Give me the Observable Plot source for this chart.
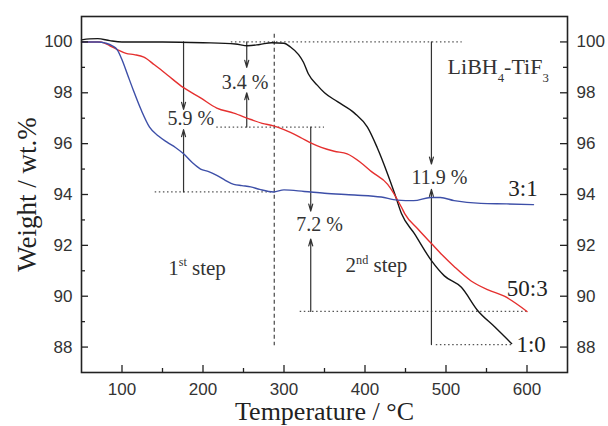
<!DOCTYPE html>
<html>
<head>
<meta charset="utf-8">
<script src="https://cdn.jsdelivr.net/npm/d3@7"></script>
<script src="https://cdn.jsdelivr.net/npm/@observablehq/plot@0.6"></script>
<style>
  html, body { margin: 0; padding: 0; background: #fff; }
  #chart { width: 608px; height: 426px; }
</style>
</head>
<body>
<div id="chart"></div>
<script>
// ---- Data ----
const blackT = [50, 60, 70, 85, 100, 150, 200, 240, 255, 270, 285, 300, 308, 318, 324, 330, 341, 350, 366, 387, 403, 415, 428, 437, 445, 461, 482, 498, 519, 539, 560, 581];
const blackW = [100.08, 100.12, 100.13, 100.05, 100.0, 100.0, 99.97, 99.92, 99.85, 99.9, 99.97, 99.95, 99.8, 99.5, 99.2, 98.75, 98.3, 98.0, 97.65, 97.2, 96.65, 95.85, 94.8, 94.0, 93.25, 92.46, 91.4, 90.8, 90.35, 89.44, 88.8, 88.14];

const redT = [50, 73, 85, 94, 105, 115, 127, 140, 156, 176, 197, 217, 238, 259, 273, 287, 300, 320, 335, 346, 362, 378, 395, 408, 428, 445, 449, 465, 482, 496, 510, 531, 552, 572, 600];
const redW = [100.0, 100.0, 99.85, 99.7, 99.55, 99.5, 99.4, 99.1, 98.7, 98.2, 97.8, 97.4, 97.2, 96.95, 96.8, 96.7, 96.55, 96.25, 96.0, 95.85, 95.7, 95.6, 95.25, 94.9, 94.4, 93.5, 93.25, 92.65, 92.07, 91.6, 91.17, 90.6, 90.25, 90.0, 89.4];

const blueT = [50, 70, 80, 88, 94, 100, 107, 114, 124, 134, 145, 156, 166, 176, 187, 197, 207, 217, 228, 238, 248, 259, 270, 287, 300, 325, 350, 387, 420, 440, 460, 481, 493, 510, 543, 575, 608];
const blueW = [100.0, 100.0, 99.95, 99.85, 99.7, 99.3, 98.7, 98.1, 97.3, 96.65, 96.3, 96.05, 95.85, 95.6, 95.25, 95.0, 94.9, 94.75, 94.55, 94.4, 94.35, 94.3, 94.2, 94.1, 94.18, 94.12, 94.05, 93.98, 93.9, 93.78, 93.76, 93.88, 93.88, 93.76, 93.65, 93.63, 93.6];

const seriesNames = ["1:0", "50:3", "3:1"];
const seriesColors = ["#151515", "#e5302f", "#3d4fa8"];
const seriesLabelT = [587, 575, 577];
const seriesLabelW = [88.1, 90.3, 94.24];

// Ticks
const xTicks = [100, 200, 300, 400, 500, 600];
const xMinor = [150, 250, 350, 450, 550];
const yTicks = [88, 90, 92, 94, 96, 98, 100];
const yMinor = [89, 91, 93, 95, 97, 99];

// Dotted guide lines
const dotY = [100, 96.65, 94.1, 89.4, 88.1];
const dotX1 = [235, 217, 141, 320, 488];
const dotX2 = [520, 350, 290, 600, 581];

// Step divider
const dividerT = [288];
const dividerW1 = [100.3];
const dividerW2 = [88.05];

// Arrows
const arrowT    = [176, 176, 254, 254, 333, 333, 482, 482];
const arrowFrom = [100, 94.1, 100, 96.65, 96.65, 89.4, 100, 88.1];
const arrowTo   = [97.35, 96.55, 99.0, 98.0, 93.35, 92.25, 95.2, 94.2];

// Annotation texts
const pctLabels = ["5.9 %", "3.4 %", "7.2 %", "11.9 %"];
const pctT = [185, 252, 344, 492];
const pctW = [97.0, 98.4, 92.8, 94.67];

const stepLabels = ["1^{st} step", "2^{nd} step"];
const stepT = [157, 376];
const stepW = [91.1, 91.2];

const titleLabel = ["LiBH_{4}-TiF_{3}"];
const titleT = [502];
const titleW = [99.0];

const xLabel = "Temperature / °C";
const yLabel = "Weight / wt.%";

// ---- Build ----
const curves = [
  ...blackT.map((t, i) => ({s: "1:0", T: t, W: blackW[i]})),
  ...redT.map((t, i) => ({s: "50:3", T: t, W: redW[i]})),
  ...blueT.map((t, i) => ({s: "3:1", T: t, W: blueW[i]}))
];

const W = 608, H = 426, mL = 81, mR = 41, mT = 16, mB = 54;
const pW = W - mL - mR, pH = H - mT - mB;
const serif = "'Liberation Serif', 'Times New Roman', serif";
const sans = "'Liberation Sans', Arial, sans-serif";
const idx = n => d3.range(n);

const plot = Plot.plot({
  width: W, height: H,
  marginLeft: mL, marginRight: mR, marginTop: mT, marginBottom: mB,
  style: {fontFamily: sans, background: "#fff", color: "#222"},
  x: {domain: [50, 650]},
  y: {domain: [87, 101]},
  color: {domain: seriesNames, range: seriesColors},
  marks: [
    // guide lines
    Plot.ruleY(idx(dotY.length), {y: i => dotY[i], x1: i => dotX1[i], x2: i => dotX2[i], stroke: "#555", strokeWidth: 1.3, strokeDasharray: "1.5,2.6"}),
    Plot.ruleX(idx(dividerT.length), {x: i => dividerT[i], y1: i => dividerW1[i], y2: i => dividerW2[i], stroke: "#555", strokeWidth: 1.3, strokeDasharray: "4,3"}),
    Plot.arrow(idx(arrowT.length), {x: i => arrowT[i], y1: i => arrowFrom[i], y2: i => arrowTo[i], stroke: "#333", strokeWidth: 1.2, headLength: 9, headAngle: 32}),
    // curves
    Plot.line(curves, {x: "T", y: "W", z: "s", stroke: "s", strokeWidth: 1.4, curve: "monotone-x"}),
    // texts
    Plot.text(idx(pctLabels.length), {x: i => pctT[i], y: i => pctW[i], text: i => pctLabels[i], fontFamily: serif, fontSize: 20, fill: "#333"}),
    Plot.text(idx(stepLabels.length), {x: i => stepT[i], y: i => stepW[i], text: i => stepLabels[i], fontFamily: serif, fontSize: 21, fill: "#333", textAnchor: "start"}),
    Plot.text(idx(titleLabel.length), {x: i => titleT[i], y: i => titleW[i], text: i => titleLabel[i], fontFamily: serif, fontSize: 22, fill: "#333", textAnchor: "start"}),
    Plot.text(idx(seriesNames.length), {x: i => seriesLabelT[i], y: i => seriesLabelW[i], text: i => seriesNames[i], fontFamily: serif, fontSize: 23, fill: "#222", textAnchor: "start"}),
    // axis titles
    Plot.text([xLabel], {frameAnchor: "bottom", lineAnchor: "middle", textAnchor: "middle", dy: 39, text: d => d, fontFamily: serif, fontSize: 26, fill: "#222"}),
    Plot.text([yLabel], {frameAnchor: "left", lineAnchor: "middle", textAnchor: "middle", dx: -54, rotate: -90, text: d => d, fontFamily: serif, fontSize: 27, fill: "#222"}),
    // tick labels
    Plot.axisX(xTicks, {anchor: "bottom", tickSize: 0, tickPadding: 10, fontSize: 17, label: null, tickFormat: d => String(d), fill: "#333"}),
    Plot.axisY(yTicks, {anchor: "left", tickSize: 0, tickPadding: 9, fontSize: 17, label: null, tickFormat: d => String(d), fill: "#333"}),
    Plot.axisY(yTicks, {anchor: "right", tickSize: 0, tickPadding: 9, fontSize: 17, label: null, tickFormat: d => String(d), fill: "#333"}),
    // inward ticks
    Plot.ruleX(xTicks, {x: d => d, insetTop: pH - 7, stroke: "#222", strokeWidth: 1.3}),
    Plot.ruleX(xMinor, {x: d => d, insetTop: pH - 4, stroke: "#222", strokeWidth: 1.3}),
    Plot.ruleY(yTicks, {y: d => d, insetRight: pW - 7, stroke: "#222", strokeWidth: 1.3}),
    Plot.ruleY(yMinor, {y: d => d, insetRight: pW - 4, stroke: "#222", strokeWidth: 1.3}),
    Plot.ruleY(yTicks, {y: d => d, insetLeft: pW - 7, stroke: "#222", strokeWidth: 1.3}),
    Plot.ruleY(yMinor, {y: d => d, insetLeft: pW - 4, stroke: "#222", strokeWidth: 1.3}),
    Plot.frame({stroke: "#222", strokeWidth: 1.6})
  ]
});

// Turn ^{..} and _{..} into super/subscript tspans
d3.select(plot).selectAll("text").each(function() {
  const t = this.textContent;
  if (!/[\^_]\{/.test(t)) return;
  const parts = t.split(/([\^_]\{[^}]*\})/).filter(s => s.length);
  this.textContent = "";
  let shift = 0; // in base em
  for (const p of parts) {
    const ts = d3.select(this).append("tspan");
    if (p[0] === "^" || p[0] === "_") {
      const up = p[0] === "^";
      const target = up ? -0.42 : 0.34;
      ts.attr("font-size", "58%").attr("dy", ((target - shift) / 0.58).toFixed(3) + "em").text(p.slice(2, -1));
      shift = target;
    } else {
      if (shift !== 0) ts.attr("dy", (-shift).toFixed(3) + "em");
      shift = 0;
      ts.text(p);
    }
  }
});

document.getElementById("chart").appendChild(plot);
</script>
</body>
</html>
